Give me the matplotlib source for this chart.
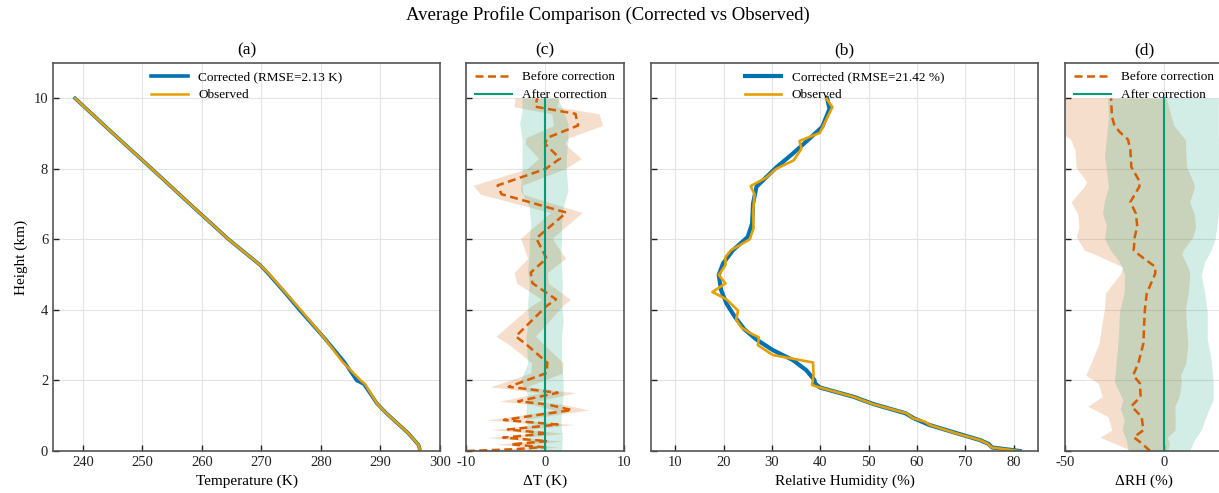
import numpy as np
import matplotlib
matplotlib.use('Agg')
import matplotlib.pyplot as plt

plt.rcParams['font.family'] = ['Liberation Serif', 'DejaVu Serif']
plt.rcParams['axes.unicode_minus'] = False

# ---------------- data ----------------
# (a) temperature profiles
h_T = [0.0, 0.05, 0.17, 0.5, 1.07, 1.35, 1.9, 2.0, 2.53, 3.24, 4.0, 4.5, 5.0, 5.27, 6.0, 7.0, 8.0, 9.0, 10.0]
T_cor = [296.6, 296.6, 296.4, 294.7, 291.0, 289.4, 287.2, 286.0, 283.9, 280.4, 276.4, 273.9, 271.3, 269.8, 264.5, 258.0, 251.6, 245.1, 238.7]
T_obs = [296.6, 296.6, 296.4, 294.7, 291.0, 289.4, 287.4, 286.7, 283.6, 280.4, 276.6, 274.0, 271.4, 269.8, 264.5, 258.0, 251.6, 245.1, 238.7]

# (b) relative humidity profiles
h_RH_obs = [0.0, 0.10, 0.20, 0.31, 0.50, 0.74, 0.83, 0.93, 1.07, 1.33, 1.54, 1.80, 1.87, 2.15, 2.51,
            2.72, 3.0, 3.22, 3.35, 3.50, 3.73, 3.98, 4.30, 4.51, 4.75, 4.99, 5.27, 5.5, 5.69,
            6.0, 6.31, 6.78, 7.28, 7.51, 7.75, 8.0, 8.24, 8.57, 8.79, 9.02, 9.75, 10.0]
RH_obs = [81.0, 75.4, 74.7, 73.0, 68.1, 62.6, 61.6, 59.2, 57.8, 50.9, 46.8, 39.9, 38.3, 38.6, 38.5,
          30.2, 27.1, 27.3, 25.4, 23.7, 22.6, 23.0, 20.6, 17.7, 20.4, 19.0, 20.4, 20.4, 21.5,
          25.4, 26.2, 26.1, 26.4, 25.6, 28.8, 30.9, 34.5, 36.1, 35.7, 39.9, 42.5, 41.2]
h_RH_cor = [0.0, 0.10, 0.20, 0.31, 0.50, 0.74, 0.93, 1.07, 1.33, 1.54, 1.80, 1.92, 2.01, 2.29, 2.58,
            2.86, 3.16, 3.45, 3.81, 4.18, 4.56, 4.99, 5.32, 5.70, 6.07, 6.45, 7.02, 7.49, 7.72,
            8.04, 8.43, 8.86, 9.19, 9.70, 10.0]
RH_cor = [81.2, 75.5, 74.8, 73.0, 68.3, 62.5, 59.3, 57.6, 51.0, 46.8, 39.9, 38.9, 38.8, 37.1, 34.3,
          30.2, 26.8, 24.3, 22.3, 20.6, 19.5, 19.0, 19.9, 22.0, 25.0, 25.9, 26.1, 26.8, 28.5,
          30.9, 34.3, 37.8, 40.4, 41.9, 41.4]

# (c) temperature bias, before correction (mean and spread)
h_dT = [0.0, 0.05, 0.11, 0.19, 0.28, 0.38, 0.50, 0.61, 0.75, 0.88, 1.04, 1.16, 1.32, 1.41, 1.65, 1.82,
        2.21, 2.50, 3.01, 3.25, 4.11, 4.30, 4.76, 5.06, 5.46, 6.03, 6.76, 7.28, 7.53, 8.0, 8.29,
        8.71, 8.88, 9.23, 9.56, 9.76, 10.0]
dT_before = [-9.9, -4.0, -0.2, -4.3, 0.3, -5.3, 0.4, -4.7, 1.6, -5.2, -0.4, 3.4, 0.3, -3.4, 1.6, -4.6,
             0.2, 0.3, -2.3, -3.7, 0.2, 1.4, -1.6, -1.8, 0.2, -1.1, 2.7, -5.5, -6.0, 0.1, 1.9,
             0.0, 0.3, 4.2, 3.85, -1.2, -1.0]
dT_before_sd = [2.0, 1.8, 1.8, 2.0, 2.0, 2.1, 2.0, 2.2, 2.0, 2.1, 2.0, 2.2, 2.0, 2.4, 2.2, 2.3,
                2.0, 2.0, 2.2, 2.5, 2.0, 1.8, 2.0, 2.1, 2.4, 2.0, 2.0, 2.7, 3.1, 2.4, 2.7,
                2.5, 2.7, 3.1, 3.0, 2.7, 2.8]
# (c) after correction spread (lower / upper)
h_dT_after = [0.0, 0.4, 0.8, 1.16, 1.6, 2.0, 2.48, 3.24, 3.7, 4.18, 4.7, 5.13, 5.6, 5.98, 6.45, 6.92,
              7.39, 7.96, 8.34, 8.81, 9.28, 9.66, 10.0]
dT_after_lo = [-2.2, -2.0, -2.3, -2.4, -2.2, -3.1, -2.2, -2.4, -2.1, -2.2, -2.0, -2.2, -2.0, -2.0, -1.8, -2.0,
               -3.1, -2.9, -2.9, -2.9, -3.2, -2.9, -2.9]
dT_after_hi = [2.1, 2.2, 2.0, 2.1, 2.3, 2.3, 2.1, 2.1, 2.3, 2.1, 2.2, 2.1, 2.0, 2.1, 2.1, 2.3,
               2.9, 2.7, 2.7, 2.9, 2.9, 2.3, 1.6]

# (d) relative humidity bias
h_dRH = [0.0, 0.22, 0.39, 0.59, 0.97, 1.27, 1.54, 1.92, 2.15, 2.48, 3.05, 3.52, 4.04, 4.47, 5.03, 5.22,
         5.58, 5.69, 6.07, 6.36, 6.73, 7.06, 7.49, 7.63, 8.05, 8.53, 8.83, 9.05, 9.24, 9.47, 10.0]
dRH_before = [-6.9, -11.2, -15.2, -10.3, -11.2, -16.4, -11.7, -12.1, -15.5, -12.9, -10.3, -10.0, -9.5, -8.6, -4.3, -4.3,
              -12.9, -15.2, -14.7, -13.4, -14.1, -16.9, -12.4, -12.1, -16.4, -16.9, -18.1, -22.4, -25.0, -26.2, -26.7]
dRH_before_sd = [9.0, 14.0, 17.0, 16.0, 17.0, 22.0, 19.5, 21.0, 24.0, 24.0, 22.5, 21.5, 20.5, 21.0, 17.5, 16.5,
                 22.0, 25.0, 29.5, 29.5, 29.5, 30.0, 28.0, 27.0, 28.0, 28.0, 29.0, 30.0, 30.0, 30.0, 28.0]
h_dRH_after = [0.0, 0.31, 0.6, 0.88, 1.2, 1.44, 1.96, 2.58, 3.19, 3.95, 4.51, 4.99, 5.36, 5.7, 6.02,
               6.4, 6.74, 7.1, 7.49, 7.96, 8.34, 8.9, 9.47, 10.0]
dRH_after_lo = [-18.0, -19.0, -21.0, -20.0, -22.0, -20.7, -25.0, -24.0, -23.0, -22.4, -20.0, -19.8, -22.4, -27.0, -30.0,
                -29.0, -31.0, -30.0, -28.0, -29.0, -30.0, -29.0, -28.0, -28.4]
dRH_after_hi = [13.0, 15.5, 19.0, 20.7, 23.0, 25.0, 25.0, 24.0, 22.0, 22.0, 20.7, 19.0, 20.7, 24.0, 26.0,
                27.0, 27.6, 28.0, 27.6, 28.5, 28.5, 27.6, 27.6, 27.6]

# ---------------- style ----------------
BLUE = '#0072B2'
ORANGE = '#E69F00'
VERM = '#D55E00'
GREEN = '#009E73'

W, H = 1219, 493
fig = plt.figure(figsize=(W / 100, H / 100), dpi=100)


def ax_px(x0, x1, y0, y1):
    return fig.add_axes([x0 / W, 1 - y1 / H, (x1 - x0) / W, (y1 - y0) / H])


axa = ax_px(53, 440, 63, 451)
axc = ax_px(466, 624, 63, 451)
axb = ax_px(651, 1038, 63, 451)
axd = ax_px(1065, 1223, 63, 451)

for ax in (axa, axc, axb, axd):
    ax.set_ylim(0, 11)
    ax.set_yticks([0, 2, 4, 6, 8, 10])
    ax.grid(True, color='#e3e3e3', linewidth=0.8)
    ax.set_axisbelow(True)
    for s in ax.spines.values():
        s.set_color('#555555')
        s.set_linewidth(1.2)
    ax.tick_params(direction='in', length=4, width=1, colors='#222222', labelsize=10.5)
for ax in (axc, axb, axd):
    ax.tick_params(labelleft=False)

# (a)
axa.plot(T_cor, h_T, color=BLUE, lw=2.6, label='Corrected (RMSE=2.13 K)')
axa.plot(T_obs, h_T, color=ORANGE, lw=1.8, label='Observed')
axa.set_xlim(235, 300)
axa.set_xticks(np.arange(240, 301, 10))
axa.set_xlabel('Temperature (K)', fontsize=11)
axa.set_ylabel('Height (km)', fontsize=11)
axa.set_title('(a)', fontsize=12.5, pad=6)

# (b)
axb.plot(RH_cor, h_RH_cor, color=BLUE, lw=3.0, label='Corrected (RMSE=21.42 %)')
axb.plot(RH_obs, h_RH_obs, color=ORANGE, lw=1.9, label='Observed')
axb.set_xlim(5, 85)
axb.set_xticks(np.arange(10, 81, 10))
axb.set_xlabel('Relative Humidity (%)', fontsize=11)
axb.set_title('(b)', fontsize=12.5, pad=6)

# (c)
dTb = np.array(dT_before)
dTs = np.array(dT_before_sd)
axc.fill_betweenx(h_dT, dTb - dTs, dTb + dTs, color=VERM, alpha=0.2, linewidth=0)
axc.fill_betweenx(h_dT_after, dT_after_lo, dT_after_hi, color=GREEN, alpha=0.18, linewidth=0)
axc.plot(dT_before, h_dT, color=VERM, lw=1.8, ls=(0, (3.2, 1.8)), label='Before correction')
axc.plot(np.zeros(len(h_dT_after)), h_dT_after, color=GREEN, lw=1.5, label='After correction')
axc.set_xlim(-10, 10)
axc.set_xticks([-10, 0, 10])
axc.set_xlabel('\u0394T (K)', fontsize=11)
axc.set_title('(c)', fontsize=12.5, pad=6)

# (d)
dRb = np.array(dRH_before)
dRs = np.array(dRH_before_sd)
axd.fill_betweenx(h_dRH, dRb - dRs, dRb + dRs, color=VERM, alpha=0.2, linewidth=0)
axd.fill_betweenx(h_dRH_after, dRH_after_lo, dRH_after_hi, color=GREEN, alpha=0.18, linewidth=0)
axd.plot(dRH_before, h_dRH, color=VERM, lw=1.8, ls=(0, (3.2, 1.8)), label='Before correction')
axd.plot(np.zeros(len(h_dRH_after)), h_dRH_after, color=GREEN, lw=1.5, label='After correction')
axd.set_xlim(-50, 30)
axd.set_xticks([-50, 0])
axd.set_xlabel('\u0394RH (%)', fontsize=11)
axd.set_title('(d)', fontsize=12.5, pad=6)

for ax in (axa, axc, axb, axd):
    ax.legend(loc='upper center', frameon=False, fontsize=9.5, handlelength=2.8,
              borderaxespad=0.2, labelspacing=0.45, handletextpad=0.8)

fig.text(608 / W, 1 - 15 / H, 'Average Profile Comparison (Corrected vs Observed)',
         ha='center', va='center', fontsize=13.5)

fig.savefig('out.png', dpi=100)
